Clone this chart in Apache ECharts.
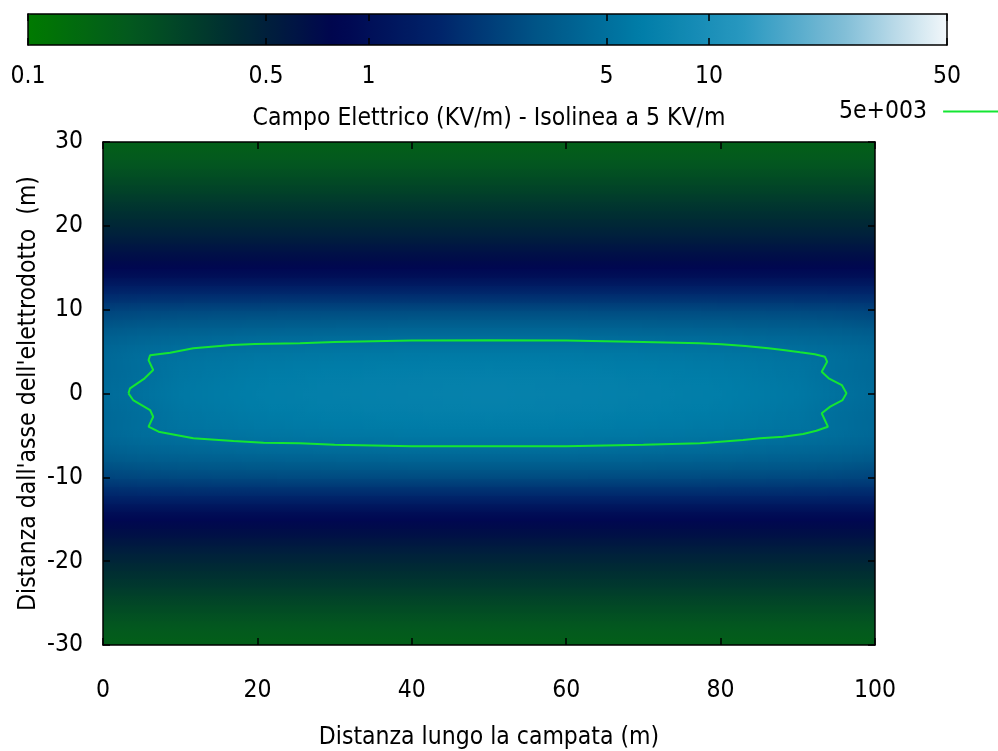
<!DOCTYPE html>
<html><head><meta charset="utf-8">
<script src="https://cdn.jsdelivr.net/npm/echarts@6/dist/echarts.min.js"></script>
<style>html,body{margin:0;padding:0;background:#fff}#c{width:998px;height:751px}</style>
</head><body><div id="c"></div>
<script>
const FONT = "'Liberation Sans Narrow','Arial Narrow','DejaVu Sans Condensed',sans-serif";

// Lateral distance from the line axis (|y|, m) for each row of the field table
const yDistAbs = [0,1,2,3,4,5,6,7,8,9,10,11,12,13,14,15,16,17,18,19,20,21,22,23,24,25,26,27,28,29,30];
// Positions along the span (m), one column of the field table each
const xColumns = [0,5,10,20,30,40,50,60,70,80,90,95,100];
// Electric field (kV/m): one array per column in xColumns, values for yDistAbs (symmetric in y)
const field_x0   = [4.6,4.55,4.45,4.4,4.4,4.3,4.05,3.7,3.3,2.85,2.45,2.02,1.65,1.3,1.02,0.84,0.71,0.63,0.56,0.5,0.45,0.405,0.365,0.33,0.295,0.265,0.24,0.22,0.2,0.187,0.175];
const field_x5   = [5.15,5.05,4.93,4.88,4.9,4.75,4.4,3.95,3.5,3.0,2.55,2.08,1.68,1.32,1.02,0.84,0.71,0.63,0.56,0.5,0.45,0.405,0.365,0.33,0.295,0.265,0.24,0.22,0.2,0.187,0.175];
const field_x10  = [5.75,5.7,5.55,5.45,5.3,5.05,4.6,4.1,3.6,3.1,2.6,2.1,1.7,1.33,1.02,0.84,0.71,0.63,0.56,0.5,0.45,0.405,0.365,0.33,0.295,0.265,0.24,0.22,0.2,0.187,0.175];
const field_x20  = [6.4,6.35,6.2,6.0,5.75,5.4,4.95,4.35,3.75,3.2,2.65,2.13,1.7,1.33,1.02,0.83,0.71,0.63,0.56,0.5,0.45,0.405,0.365,0.33,0.295,0.265,0.24,0.22,0.2,0.187,0.175];
const field_x30  = [6.7,6.65,6.5,6.3,5.98,5.62,5.1,4.45,3.85,3.25,2.68,2.14,1.7,1.32,1.02,0.83,0.71,0.63,0.56,0.5,0.45,0.405,0.365,0.33,0.295,0.265,0.24,0.22,0.2,0.187,0.175];
const field_x40  = [6.9,6.85,6.7,6.45,6.12,5.76,5.23,4.6,3.95,3.3,2.7,2.15,1.7,1.32,1.02,0.83,0.71,0.63,0.56,0.5,0.45,0.405,0.365,0.33,0.295,0.265,0.24,0.22,0.2,0.187,0.175];
const field_x50  = [7.0,6.95,6.8,6.55,6.2,5.8,5.25,4.6,3.95,3.3,2.7,2.15,1.7,1.32,1.02,0.83,0.71,0.63,0.56,0.5,0.45,0.405,0.365,0.33,0.295,0.265,0.24,0.22,0.2,0.187,0.175];
const field_x60  = [6.9,6.85,6.7,6.45,6.12,5.76,5.23,4.6,3.95,3.3,2.7,2.15,1.7,1.32,1.02,0.83,0.71,0.63,0.56,0.5,0.45,0.405,0.365,0.33,0.295,0.265,0.24,0.22,0.2,0.187,0.175];
const field_x70  = [6.7,6.65,6.5,6.3,5.98,5.62,5.1,4.45,3.85,3.25,2.68,2.14,1.7,1.32,1.02,0.83,0.71,0.63,0.56,0.5,0.45,0.405,0.365,0.33,0.295,0.265,0.24,0.22,0.2,0.187,0.175];
const field_x80  = [6.4,6.35,6.2,6.0,5.75,5.4,4.95,4.35,3.75,3.2,2.65,2.13,1.7,1.33,1.02,0.83,0.71,0.63,0.56,0.5,0.45,0.405,0.365,0.33,0.295,0.265,0.24,0.22,0.2,0.187,0.175];
const field_x90  = [5.75,5.7,5.55,5.45,5.3,5.05,4.6,4.1,3.6,3.1,2.6,2.1,1.7,1.33,1.02,0.84,0.71,0.63,0.56,0.5,0.45,0.405,0.365,0.33,0.295,0.265,0.24,0.22,0.2,0.187,0.175];
const field_x95  = [5.15,5.05,4.93,4.88,4.9,4.75,4.4,3.95,3.5,3.0,2.55,2.08,1.68,1.32,1.02,0.84,0.71,0.63,0.56,0.5,0.45,0.405,0.365,0.33,0.295,0.265,0.24,0.22,0.2,0.187,0.175];
const field_x100 = [4.6,4.55,4.45,4.4,4.4,4.3,4.05,3.7,3.3,2.85,2.45,2.02,1.65,1.3,1.02,0.84,0.71,0.63,0.56,0.5,0.45,0.405,0.365,0.33,0.295,0.265,0.24,0.22,0.2,0.187,0.175];
const fieldColumns = [field_x0,field_x5,field_x10,field_x20,field_x30,field_x40,field_x50,field_x60,field_x70,field_x80,field_x90,field_x95,field_x100];

// 5 kV/m isoline (m)
const contourX = [3.3,3.5,5.4,6.5,5.9,6.1,8.7,11.7,16.7,19.7,25.5,30,40,50,60,70,77.3,80.1,83.2,86.2,88.1,90.3,92.2,93.5,93.8,93.1,94.0,95.7,96.3,95.8,94.2,93.1,93.5,93.9,92.4,90.7,88.1,85.1,82.9,79.1,77.3,70,60,50,40,30,25.5,20.8,16.9,11.7,7.2,5.9,6.5,6.1,3.9,3.3];
const contourY = [0.02,0.62,1.81,2.8,3.98,4.57,4.87,5.39,5.79,5.9,5.99,6.15,6.33,6.35,6.33,6.15,5.99,5.87,5.67,5.39,5.19,4.91,4.68,4.39,3.79,2.6,1.81,1.01,0.02,-0.78,-1.57,-2.36,-3.16,-3.96,-4.44,-4.83,-5.15,-5.34,-5.55,-5.82,-5.94,-6.12,-6.28,-6.3,-6.28,-6.1,-5.94,-5.87,-5.67,-5.35,-4.56,-3.96,-2.77,-1.97,-0.78,0.02];

// Colour bar
const cbTicks = [0.1,0.5,1,5,10,50];
const cbMin = 0.1, cbMax = 50;
const cbColors = ['#007a00','#03591e','#002d32','#00054f','#002369','#005587','#007da8','#2898c0','#82bed7','#f2f7fa'];

// ---- build table for the library ----
const LMIN = Math.log10(cbMin), LMAX = Math.log10(cbMax);
const yRows = [];
for (let i = yDistAbs.length - 1; i > 0; i--) yRows.push({y: -yDistAbs[i], k: i});
for (let i = 0; i < yDistAbs.length; i++) yRows.push({y: yDistAbs[i], k: i});
// one patch between each pair of neighbouring columns and rows; corners carry the read values
const patches = [];
for (let c = 0; c < xColumns.length - 1; c++) {
  for (let r = 0; r < yRows.length - 1; r++) {
    const xa = xColumns[c], xb = xColumns[c+1], ya = yRows[r].y, yb = yRows[r+1].y;
    const vaa = Math.log10(fieldColumns[c][yRows[r].k]);
    const vba = Math.log10(fieldColumns[c+1][yRows[r].k]);
    const vab = Math.log10(fieldColumns[c][yRows[r+1].k]);
    const vbb = Math.log10(fieldColumns[c+1][yRows[r+1].k]);
    patches.push([(xa+xb)/2, (ya+yb)/2, (vaa+vba+vab+vbb)/4, xa, xb, ya, yb, vaa, vba, vab, vbb]);
  }
}
const contour = contourX.map((x, i) => [x, contourY[i]]);
function colorOf(l) {
  const t = Math.min(1, Math.max(0, (l - LMIN) / (LMAX - LMIN)));
  return echarts.color.lerp(t, cbColors);
}

const lab = {fontFamily: FONT, fontSize: 24.5, color: '#000'};
const line = {color: '#000', width: 1.5};
const chart = echarts.init(document.getElementById('c'), null, {renderer: 'canvas'});
const cbVals = cbTicks.map(v => Math.log10(v));
chart.setOption({
  animation: false,
  backgroundColor: '#fff',
  grid: [
    {left: 103, top: 142, width: 772, height: 503, outerBoundsMode: 'none', containLabel: false},
    {left: 28, top: 14, width: 919, height: 31, outerBoundsMode: 'none', containLabel: false}
  ],
  legend: {
    data: ['5e+003'], left: 834, top: 94, align: 'right', icon: 'rect', itemWidth: 62, itemHeight: 2,
    textStyle: {fontFamily: FONT, fontSize: 24.5, color: '#000', padding: [0, 11, 0, 0]}, selectedMode: false
  },
  visualMap: {
    type: 'continuous', min: LMIN, max: LMAX, dimension: 2, seriesIndex: 0,
    orient: 'horizontal', left: 28, top: 14, itemWidth: 31, itemHeight: 919, padding: 0,
    calculable: false, text: null, showLabel: false, hoverLink: false, z: 1,
    inRange: {color: cbColors}
  },
  xAxis: [
    {gridIndex: 0, type: 'value', min: 0, max: 100, interval: 20, position: 'bottom', z: 10,
     axisLine: {onZero: false, lineStyle: line}, axisTick: {inside: true, length: 7, lineStyle: line},
     splitLine: {show: false}, axisLabel: Object.assign({margin: 33}, lab),
     name: 'Distanza lungo la campata (m)', nameLocation: 'middle', nameGap: 80, nameMoveOverlap: false, nameTextStyle: lab},
    {gridIndex: 0, type: 'value', min: 0, max: 100, interval: 20, position: 'top', z: 10,
     axisLine: {onZero: false, lineStyle: line}, axisTick: {inside: true, length: 7, lineStyle: line},
     splitLine: {show: false}, axisLabel: {show: false},
     name: 'Campo Elettrico (KV/m) - Isolinea a 5 KV/m', nameLocation: 'middle', nameGap: 11, nameMoveOverlap: false, nameTextStyle: lab},
    {gridIndex: 1, type: 'value', min: LMIN, max: LMAX, position: 'bottom', z: 10,
     axisLine: {onZero: false, lineStyle: line},
     axisTick: {inside: true, length: 7, customValues: cbVals, lineStyle: line},
     splitLine: {show: false},
     axisLabel: Object.assign({margin: 19, customValues: cbVals,
       formatter: function (v) { let best = cbTicks[0]; cbTicks.forEach(t => { if (Math.abs(Math.log10(t) - v) < Math.abs(Math.log10(best) - v)) best = t; }); return String(best); }}, lab)},
    {gridIndex: 1, type: 'value', min: LMIN, max: LMAX, position: 'top', z: 10,
     axisLine: {onZero: false, lineStyle: line},
     axisTick: {inside: true, length: 7, customValues: cbVals, lineStyle: line},
     splitLine: {show: false}, axisLabel: {show: false}}
  ],
  yAxis: [
    {gridIndex: 0, type: 'value', min: -30, max: 30, interval: 10, position: 'left', z: 10,
     axisLine: {show: true, onZero: false, lineStyle: line}, axisTick: {show: true, inside: true, length: 7, lineStyle: line},
     splitLine: {show: false}, axisLabel: Object.assign({margin: 20}, lab),
     name: "Distanza dall'asse dell'elettrodotto  (m)", nameLocation: 'middle', nameGap: 62, nameMoveOverlap: false, nameTextStyle: lab},
    {gridIndex: 0, type: 'value', min: -30, max: 30, interval: 10, position: 'right', z: 10,
     axisLine: {show: true, onZero: false, lineStyle: line}, axisTick: {show: true, inside: true, length: 7, lineStyle: line},
     splitLine: {show: false}, axisLabel: {show: false}},
    {gridIndex: 1, type: 'value', min: 0, max: 1, position: 'left', z: 10,
     axisLine: {show: true, onZero: false, lineStyle: line}, axisTick: {show: false}, splitLine: {show: false}, axisLabel: {show: false}},
    {gridIndex: 1, type: 'value', min: 0, max: 1, position: 'right', z: 10,
     axisLine: {show: true, onZero: false, lineStyle: line}, axisTick: {show: false}, splitLine: {show: false}, axisLabel: {show: false}}
  ],
  series: [
    {
      type: 'custom', name: 'field', xAxisIndex: 0, yAxisIndex: 0, clip: true, silent: true,
      encode: {x: 0, y: 1}, data: patches,
      renderItem: function (params, api) {
        const tl = api.coord([api.value(3), api.value(6)]);
        const br = api.coord([api.value(4), api.value(5)]);
        const x0 = Math.floor(tl[0]), x1 = Math.ceil(br[0]);
        const y0 = Math.floor(tl[1]), y1 = Math.ceil(br[1]);
        const vaa = api.value(7), vba = api.value(8), vab = api.value(9), vbb = api.value(10);
        const children = [];
        for (let px = x0; px < x1; px += 2) {
          const t = Math.min(1, Math.max(0, (px + 1 - tl[0]) / (br[0] - tl[0])));
          const top = vab + (vbb - vab) * t;     // upper edge (higher y)
          const bot = vaa + (vba - vaa) * t;     // lower edge
          children.push({
            type: 'rect',
            shape: {x: px, y: y0, width: 3, height: y1 - y0 + 1},
            style: {fill: new echarts.graphic.LinearGradient(0, 0, 0, 1, [
              {offset: 0, color: colorOf(top)}, {offset: 1, color: colorOf(bot)}])}
          });
        }
        return {type: 'group', children: children};
      }
    },
    {
      type: 'line', name: '5e+003', xAxisIndex: 0, yAxisIndex: 0, data: contour,
      showSymbol: false, symbol: 'none', smooth: false, z: 5,
      lineStyle: {color: '#14e632', width: 2}, itemStyle: {color: '#14e632'}
    }
  ]
});
</script></body></html>
